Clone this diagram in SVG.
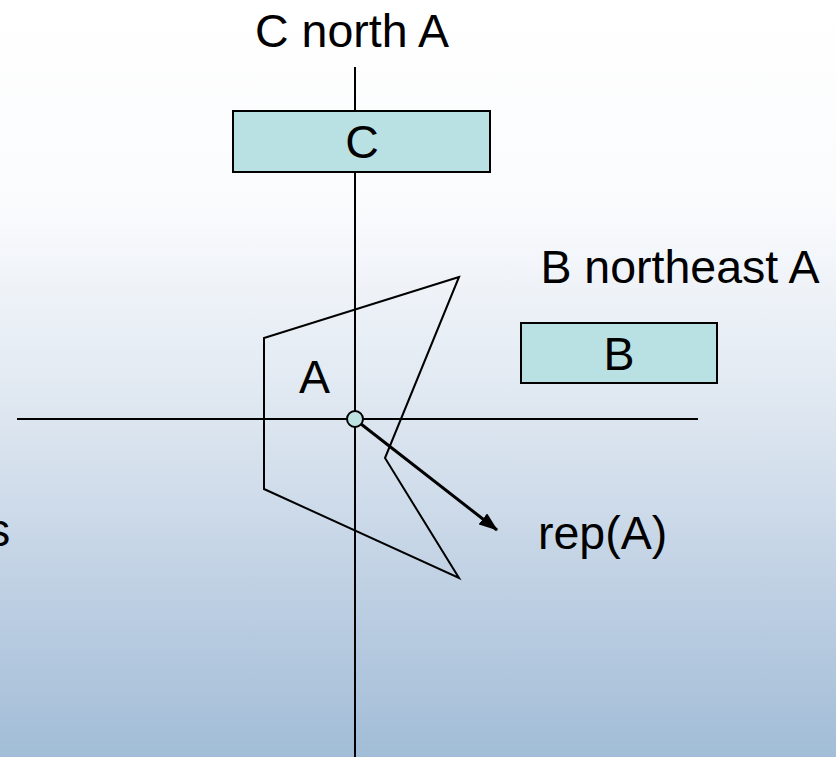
<svg xmlns="http://www.w3.org/2000/svg" width="836" height="757" viewBox="0 0 836 757">
  <defs>
    <linearGradient id="bg" x1="0" y1="0" x2="0" y2="1">
      <stop offset="0" stop-color="#ffffff"/>
      <stop offset="0.27" stop-color="#fafbfd"/>
      <stop offset="0.55" stop-color="#dde6f0"/>
      <stop offset="0.8" stop-color="#bccee2"/>
      <stop offset="1" stop-color="#a2bdd7"/>
    </linearGradient>
    <marker id="head" markerWidth="19" markerHeight="14" refX="18" refY="7" orient="auto" markerUnits="userSpaceOnUse" viewBox="0 0 19 14">
      <path d="M0,0 L19,7 L0,14 Z" fill="#000"/>
    </marker>
    <style>
      .lbl { font-family: "Liberation Sans", Arial, sans-serif; font-size: 46.5px; fill: #000; }
      .axis { stroke: #000; stroke-width: 2; fill: none; }
      .box { fill: #b9e0e3; stroke: #000; stroke-width: 2; }
    </style>
  </defs>

  <rect width="836" height="757" fill="url(#bg)"/>

  <!-- partially visible word at the left edge -->
  <text class="lbl" x="-13" y="546">s</text>

  <!-- coordinate axes through A's reference point, and the pointer to rep(A) -->
  <g id="connectors">
    <line class="axis" x1="355" y1="67" x2="355" y2="757"/>
    <line class="axis" x1="17" y1="419" x2="698" y2="419"/>
    <line x1="361" y1="424" x2="497" y2="530" stroke="#000" stroke-width="3" marker-end="url(#head)"/>
  </g>

  <!-- region A -->
  <g id="node-A">
    <polygon points="459,277 264,338 264,489 459,578 385,458" fill="none" stroke="#000" stroke-width="2" stroke-linejoin="miter"/>
    <text class="lbl" x="299" y="393">A</text>
  </g>

  <!-- representative point of A -->
  <g id="node-repA">
    <circle cx="355" cy="419" r="8" fill="#bde3e3" stroke="#000" stroke-width="2"/>
    <text class="lbl" x="538" y="549">rep(A)</text>
  </g>

  <!-- region C -->
  <g id="node-C">
    <text class="lbl" x="352" y="47" text-anchor="middle">C north A</text>
    <rect class="box" x="233" y="111" width="257" height="61"/>
    <text class="lbl" x="362" y="158" text-anchor="middle">C</text>
  </g>

  <!-- region B -->
  <g id="node-B">
    <text class="lbl" x="680" y="283" text-anchor="middle">B northeast A</text>
    <rect class="box" x="521" y="323" width="196" height="60"/>
    <text class="lbl" x="619" y="370" text-anchor="middle">B</text>
  </g>
</svg>
